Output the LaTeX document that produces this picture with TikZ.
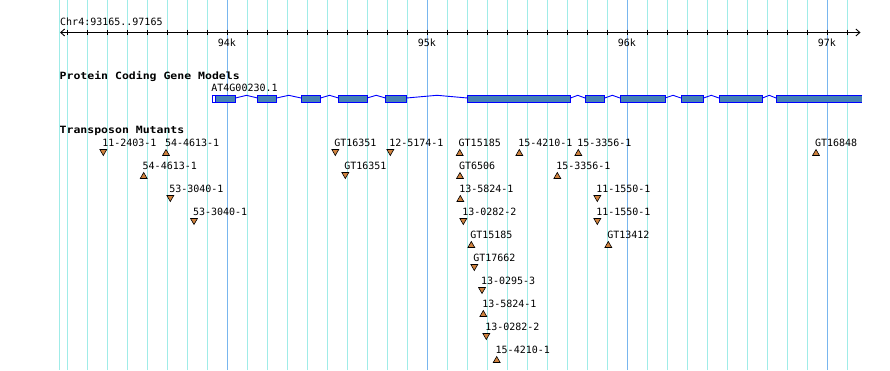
\documentclass[tikz,border=0pt]{standalone}
\usepackage{fontspec}
\setmonofont{DejaVu Sans Mono}
\newfontfamily\hdrfont[FakeStretch=1.15]{DejaVu Sans Mono}
\usetikzlibrary{shapes.geometric,arrows.meta}
\definecolor{gridc}{RGB}{160,236,232}
\definecolor{gridm}{RGB}{120,182,238}
\definecolor{exonfill}{RGB}{70,130,180}
\definecolor{exonline}{RGB}{0,0,255}
\definecolor{tricol}{RGB}{208,130,62}
\tikzset{
  txt/.style={font=\ttfamily\fontsize{10}{12}\selectfont, inner sep=0pt, anchor=base west},
  hdr/.style={font=\hdrfont\bfseries\fontsize{10}{12}\selectfont, inner sep=0pt, anchor=base west},
  triup/.style={regular polygon, regular polygon sides=3, minimum size=8pt, inner sep=0pt, draw=black, fill=tricol, line width=0.6pt},
  tridn/.style={triup, regular polygon rotate=180, yshift=2pt},
  exon/.style={draw=exonline, fill=exonfill, line width=1pt},
  intron/.style={draw=exonline, line width=0.9pt},
  gridline/.style={gridc, line width=1.1pt},
  gridmajor/.style={gridm, line width=1.1pt}
}
\begin{document}
\begin{tikzpicture}[x=1pt,y=-1pt]
\useasboundingbox (0,0) rectangle (890,370);
% grid
\draw[gridline] (59.5,0) -- (59.5,370);
\foreach \i in {0,...,39} {
  \pgfmathsetmacro\gx{67.5+20*\i}
  \draw[gridline] (\gx,0) -- (\gx,370);
}
\foreach \gx in {227.5,427.5,627.5,827.5} {
  \draw[gridmajor] (\gx,0) -- (\gx,370);
}
% ruler
\coordinate (rl) at (60,32.5);
\coordinate (rr) at (860.5,32.5);
\draw[line width=0.9pt, {Straight Barb[length=4pt,width=7pt]}-{Straight Barb[length=4pt,width=7pt]}] (rl) -- (rr);
\foreach \i in {0,...,39} {
  \pgfmathsetmacro\gx{67.5+20*\i}
  \draw[line width=0.9pt] (\gx,29.5) -- (\gx,35);
}
\node[txt] (chr) at (60,25) {Chr4:93165..97165};
\node[txt, anchor=base] (k94) at (226.8,46) {94k};
\node[txt, anchor=base] (k95) at (426.8,46) {95k};
\node[txt, anchor=base] (k96) at (626.8,46) {96k};
\node[txt, anchor=base] (k97) at (826.8,46) {97k};
% headers
\node[hdr] (h1) at (59.5,79.5) {Protein Coding Gene Models};
\node[hdr] (h2) at (59.5,133.5) {Transposon Mutants};
% gene model
\node[txt] (gname) at (211.2,91.5) {AT4G00230.1};
\foreach \a/\b in {235.5/257.5,276.5/301,320.5/338.5,367/385.5,406.5/467.5,570.5/585,604.7/620,665/681,703.5/719,762.5/776} {
  \pgfmathsetmacro\mx{(\a+\b)/2}
  \draw[intron] (\a,98) -- (\mx,95.3) -- (\b,98);
}
\draw[draw=exonline, fill=white, line width=1pt] (212.2,95.8) rectangle (215.7,102.2);
\draw[exon] (215.7,95.8) rectangle (235.5,102.2);
\foreach \a/\b in {257.5/276.5,301/320.5,338.5/367,385.5/406.5,467.5/570.5,585/604.7,620/665,681/703.5,719/762.5} {
  \draw[exon] (\a,95.8) rectangle (\b,102.2);
}
\fill[exonfill] (776,95.8) rectangle (862,102.2);
\draw[exonline, line width=1pt] (862,95.8) -- (776,95.8) -- (776,102.2) -- (862,102.2);
% transposon mutants
\foreach \px/\r/\d/\t [count=\i] in {
  103.3/1/dn/11-2403-1, 166/1/up/54-4613-1, 335.3/1/dn/GT16351, 390.3/1/dn/12-5174-1,
  459.7/1/up/GT15185, 519.3/1/up/15-4210-1, 578.3/1/up/15-3356-1, 816/1/up/GT16848,
  143.7/2/up/54-4613-1, 345.3/2/dn/GT16351, 460/2/up/GT6506, 557.3/2/up/15-3356-1,
  170.3/3/dn/53-3040-1, 460.3/3/up/13-5824-1, 597.3/3/dn/11-1550-1,
  194/4/dn/53-3040-1, 463.3/4/dn/13-0282-2, 597.3/4/dn/11-1550-1,
  471.3/5/up/GT15185, 608.3/5/up/GT13412,
  474.3/6/dn/GT17662, 482/7/dn/13-0295-3, 483.3/8/up/13-5824-1,
  486.3/9/dn/13-0282-2, 496.7/10/up/15-4210-1} {
  \pgfmathsetmacro\by{146+23*(\r-1)}
  \pgfmathsetmacro\ty{153.5+23*(\r-1)}
  \pgfmathsetmacro\lx{\px-1.2}
  \node[txt] (lab\i) at (\lx,\by) {\t};
  \node[tri\d] (tri\i) at (\px,\ty) {};
}
\end{tikzpicture}
\end{document}
